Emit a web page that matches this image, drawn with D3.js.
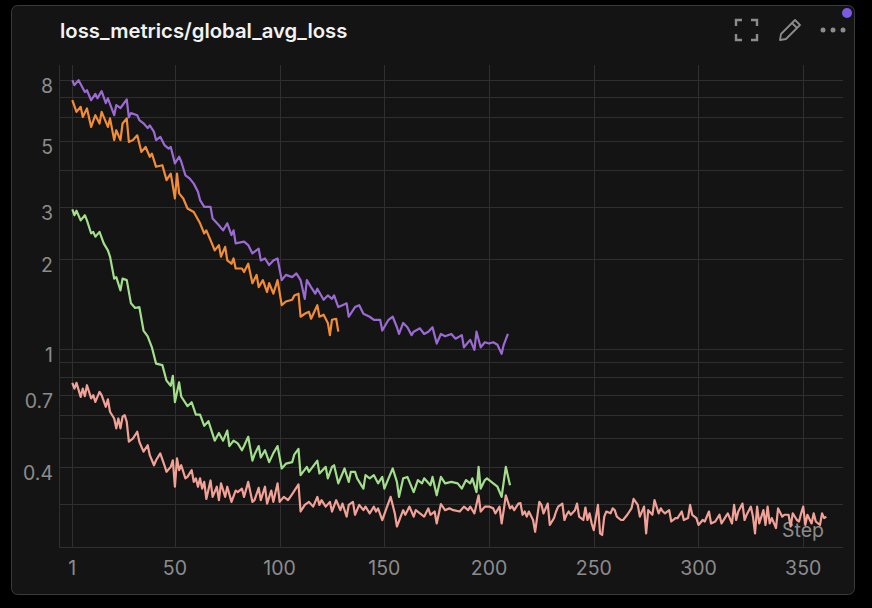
<!DOCTYPE html>
<html>
<head>
    <script src="https://cdnjs.cloudflare.com/ajax/libs/d3/7.8.5/d3.min.js"></script>
    <style>
        html, body {
            margin: 0;
            padding: 0;
            background: #000;
        }
        svg {
            display: block;
            font-family: Inter, "Noto Sans", sans-serif;
        }
        .tick-label {
            fill: #8c8c8c;
            font-size: 19.5px;
        }
        .grid-line {
            stroke: #2f2f2f;
            stroke-width: 1;
        }
        .series {
            fill: none;
            stroke-width: 2.2;
            stroke-linejoin: round;
        }
    </style>
</head>
<body>
    <svg id="chart" width="872" height="608"></svg>

    <script>
        // values, [step, loss]
        const purpleRun = [
            [1,8.0],[2,7.7],[4,8.0],[7,7.3],[8,7.4],[10,6.85],[12,7.2],[13,6.95],[15,7.35],[17,6.7],[18,6.95],
            [21,6.1],[22,6.6],[24,6.45],[27,6.9],[28,6.0],[29,6.2],[32,6.1],[33,5.87],[35,5.73],[37,5.52],
            [38,5.64],[40,5.36],[41,5.03],[43,5.16],[45,4.84],[47,4.71],[48,4.77],[50,4.2],[52,4.42],[53,4.26],
            [55,3.83],[57,3.74],[59,3.59],[61,3.37],[62,3.16],[64,3.0],[67,3.0],[68,2.74],[71,2.6],[73,2.5],
            [75,2.64],[77,2.41],[78,2.5],[79,2.26],[83,2.29],[85,2.23],[87,2.09],[90,2.17],[91,1.98],[93,2.01],
            [95,1.91],[97,1.98],[99,2.01],[101,1.70],[103,1.77],[106,1.74],[108,1.79],[110,1.70],[112,1.47],[113,1.70],
            [115,1.61],[117,1.53],[118,1.59],[121,1.46],[123,1.51],[125,1.47],[126,1.51],[128,1.38],[130,1.40],[132,1.42],
            [133,1.28],[136,1.38],[138,1.40],[140,1.31],[143,1.28],[145,1.25],[148,1.25],[149,1.15],[152,1.25],[154,1.28],
            [156,1.18],[157,1.12],[159,1.22],[161,1.18],[163,1.11],[164,1.14],[167,1.17],[169,1.12],[171,1.14],[173,1.18],
            [175,1.04],[177,1.12],[179,1.10],[182,1.12],[184,1.08],[187,1.11],[188,1.01],[191,1.07],[193,0.99],[194,1.14],
            [196,1.01],[198,1.05],[200,1.04],[202,1.05],[204,1.03],[206,0.96],[207,1.03],[209,1.12]
        ];

        const orangeRun = [
            [1,6.85],[3,6.26],[5,6.51],[6,6.02],[8,6.43],[10,5.57],[12,6.10],[14,5.72],[15,6.26],[18,5.57],
            [19,5.95],[21,5.03],[22,5.43],[24,5.03],[25,5.72],[27,5.95],[28,4.96],[30,5.03],[32,5.22],[34,4.59],
            [36,4.77],[38,4.42],[39,4.53],[41,4.09],[44,4.14],[46,3.69],[48,3.88],[50,3.2],[51,3.88],[52,3.33],
            [54,3.2],[56,2.96],[59,2.88],[62,2.64],[64,2.44],[65,2.50],[68,2.23],[69,2.14],[71,2.23],[72,2.04],
            [74,2.20],[75,1.98],[77,1.93],[78,2.01],[79,1.86],[82,1.86],[83,1.81],[85,1.93],[87,1.66],[89,1.77],
            [90,1.61],[92,1.70],[94,1.55],[95,1.66],[97,1.53],[99,1.70],[101,1.40],[103,1.44],[106,1.46],[107,1.51],
            [109,1.53],[110,1.28],[112,1.31],[114,1.33],[115,1.26],[118,1.40],[119,1.28],[121,1.30],[123,1.22],[124,1.11],
            [125,1.25],[127,1.26],[128,1.14]
        ];

        const greenRun = [
            [1,2.94],[2,2.81],[3,2.91],[5,2.70],[7,2.81],[8,2.70],[10,2.44],[11,2.47],[12,2.38],[14,2.47],
            [16,2.26],[18,2.14],[19,2.04],[21,1.72],[22,1.74],[24,1.57],[25,1.72],[27,1.70],[29,1.42],[31,1.37],
            [33,1.38],[35,1.15],[37,1.10],[39,1.01],[41,0.89],[44,0.88],[46,0.78],[48,0.75],[49,0.81],[50,0.66],
            [52,0.77],[53,0.69],[56,0.64],[58,0.66],[60,0.60],[62,0.60],[64,0.55],[66,0.57],[69,0.49],[71,0.52],
            [73,0.49],[75,0.53],[76,0.47],[78,0.49],[80,0.48],[82,0.455],[83,0.47],[85,0.505],[87,0.42],[88,0.44],
            [90,0.47],[91,0.43],[93,0.455],[95,0.415],[97,0.445],[99,0.47],[101,0.395],[103,0.41],[106,0.415],[107,0.44],
            [109,0.46],[110,0.375],[113,0.40],[114,0.385],[118,0.42],[119,0.38],[122,0.40],[123,0.366],[125,0.40],[126,0.405],
            [128,0.352],[130,0.38],[131,0.395],[133,0.356],[134,0.385],[136,0.385],[137,0.366],[140,0.338],[141,0.375],[143,0.366],
            [145,0.375],[147,0.352],[149,0.37],[150,0.338],[152,0.366],[154,0.395],[156,0.356],[157,0.317],[159,0.366],[161,0.37],
            [164,0.329],[166,0.361],[168,0.352],[169,0.366],[172,0.347],[173,0.37],[175,0.321],[177,0.37],[179,0.352],[182,0.356],
            [185,0.352],[187,0.338],[189,0.361],[191,0.352],[192,0.366],[194,0.329],[195,0.40],[196,0.338],[198,0.361],[199,0.366],
            [202,0.352],[204,0.343],[206,0.317],[207,0.356],[208,0.40],[210,0.347]
        ];

        const salmonRun = [
            [1,0.767],[2,0.734],[3,0.767],[5,0.688],[6,0.734],[7,0.692],[8,0.753],[10,0.68],[11,0.697],[12,0.662],
            [14,0.715],[15,0.697],[17,0.637],[18,0.675],[19,0.613],[21,0.582],[22,0.539],[23,0.582],[24,0.539],[25,0.59],
            [26,0.597],[27,0.567],[28,0.486],[30,0.499],[32,0.525],[33,0.486],[35,0.45],[37,0.473],[38,0.438],[40,0.405],
            [41,0.421],[43,0.444],[45,0.405],[46,0.385],[48,0.40],[49,0.421],[50,0.343],[51,0.427],[52,0.39],[53,0.405],
            [55,0.366],[56,0.37],[58,0.39],[59,0.356],[60,0.366],[61,0.343],
            [62,0.366],[63,0.338],[64,0.356],[65,0.312],[67,0.36],[68,0.317],[70,0.343],[71,0.309],[72,0.352],[74,0.317],
            [75,0.343],[77,0.305],[79,0.333],[80,0.329],[82,0.338],[83,0.317],[85,0.356],[87,0.305],[88,0.309],[90,0.34],
            [91,0.309],[93,0.343],[94,0.301],[96,0.333],[97,0.305],[99,0.352],[100,0.305],[102,0.317],[104,0.309],[106,0.324],
            [109,0.349],[110,0.283],[112,0.298],[114,0.305],[116,0.294],[118,0.317],[119,0.298],[120,0.309],[122,0.294],[124,0.305],
            [125,0.283],[127,0.309],[129,0.286],[130,0.301],[132,0.272],[133,0.298],[135,0.305],[136,0.276],[138,0.298],[140,0.286],
            [141,0.294],[143,0.279],[145,0.294],[146,0.283],[147,0.290],[149,0.265],[151,0.29],[153,0.317],[155,0.279],[156,0.252],
            [159,0.286],[160,0.276],[162,0.294],[164,0.272],[165,0.286],[167,0.279],[169,0.272],[171,0.290],[172,0.276],[174,0.283],
            [175,0.258],[177,0.30],[179,0.286],[181,0.29],[183,0.286],[186,0.283],[188,0.294],[190,0.286],[191,0.294],[193,0.279],
            [195,0.321],[196,0.283],[198,0.294],[200,0.294],[202,0.290],[203,0.279],[205,0.294],[206,0.258],[207,0.286],[208,0.321],
            [210,0.290],[211,0.295],[212,0.286],[214,0.301],[215,0.302],[216,0.276],[217,0.283],[218,0.272],[219,0.283],[221,0.265],
            [222,0.242],[224,0.305],[225,0.298],[226,0.279],[228,0.301],[229,0.255],[231,0.269],[232,0.283],[233,0.294],[235,0.301],
            [236,0.265],[237,0.276],[238,0.283],[239,0.276],[241,0.286],[242,0.301],[243,0.272],[245,0.265],[246,0.292],[247,0.265],
            [248,0.279],[249,0.258],[250,0.245],[252,0.298],[253,0.239],[254,0.236],[255,0.272],[256,0.283],[258,0.279],[259,0.290],
            [260,0.286],[261,0.272],[263,0.265],[264,0.265],[266,0.276],[268,0.290],[269,0.312],[271,0.298],[272,0.272],[274,0.294],
            [275,0.239],[276,0.286],[278,0.276],[279,0.309],[281,0.279],[282,0.290],[283,0.283],[284,0.279],[286,0.286],[287,0.262],
            [289,0.269],[290,0.269],[292,0.283],[293,0.265],[295,0.269],[296,0.298],[297,0.276],[299,0.269],[300,0.255],[302,0.265],
            [303,0.262],[305,0.283],[306,0.258],[308,0.262],[310,0.276],[311,0.258],[313,0.272],[314,0.279],[316,0.258],[317,0.298],
            [318,0.265],[319,0.283],[321,0.301],[322,0.265],[323,0.276],[325,0.294],[326,0.272],[327,0.239],[328,0.294],[329,0.258],
            [331,0.286],[332,0.255],[333,0.294],[334,0.258],[335,0.269],[337,0.249],[338,0.290],[340,0.272],[341,0.276],[343,0.276],
            [344,0.252],[345,0.279],[347,0.265],[348,0.262],[349,0.279],[350,0.294],[351,0.255],[352,0.276],[354,0.258],[355,0.279],
            [356,0.262],[358,0.255],[359,0.279],[360,0.269],[361,0.272]
        ];

        const seriesList = [
            { name: "salmon", color: "#f2a197", data: salmonRun },
            { name: "green", color: "#a2de8b", data: greenRun },
            { name: "orange", color: "#f28c36", data: orangeRun },
            { name: "purple", color: "#9b6bd3", data: purpleRun }
        ];

        const xTicks = [1, 50, 100, 150, 200, 250, 300, 350];
        const yGrid = [0.3, 0.4, 0.5, 0.6, 0.7, 0.8, 0.9, 1, 2, 3, 4, 5, 6, 7, 8];
        const yLabels = [8, 5, 3, 2, 1, 0.7, 0.4];
        const chartTitle = "loss_metrics/global_avg_loss";

        const svg = d3.select("#chart");

        // plot box
        const plot = { left: 59, right: 843, top: 65, bottom: 547 };

        const x = d3.scaleLinear()
            .domain([-5.35, 369])
            .range([plot.left, plot.right]);

        const y = d3.scaleLog()
            .domain([0.215, 9.0])
            .range([plot.bottom, plot.top]);

        // card
        svg.append("rect")
            .attr("x", 11.5)
            .attr("y", 5.5)
            .attr("width", 843)
            .attr("height", 589)
            .attr("rx", 6)
            .attr("fill", "#141414")
            .attr("stroke", "#3a3a3a")
            .attr("stroke-width", 1);

        svg.append("text")
            .attr("x", 60)
            .attr("y", 38)
            .attr("fill", "#f2f2f2")
            .attr("font-size", 20.3)
            .attr("font-weight", 600)
            .text(chartTitle);

        // top right icons
        const icons = svg.append("g")
            .attr("stroke", "#8c8c8c")
            .attr("fill", "none")
            .attr("stroke-width", 2.4);

        icons.append("path")
            .attr("d", "M736,26 V20 H742 M751,20 H757 V26 M757,34 V40 H751 M742,40 H736 V34");

        icons.append("path")
            .attr("stroke-width", 1.8)
            .attr("stroke-linejoin", "round")
            .attr("d", "M780,40 L781,34 L795,20 L800,25 L786,39 Z M792,23 L797,28");

        svg.selectAll(".dot")
            .data([823, 833, 843])
            .enter()
            .append("circle")
            .attr("cx", d => d)
            .attr("cy", 30)
            .attr("r", 2.5)
            .attr("fill", "#8c8c8c");

        svg.append("circle")
            .attr("cx", 847)
            .attr("cy", 13)
            .attr("r", 5)
            .attr("fill", "#7d5ae6");

        // grid
        const grid = svg.append("g");

        grid.selectAll(".hline")
            .data(yGrid)
            .enter()
            .append("line")
            .attr("class", "grid-line")
            .attr("x1", plot.left)
            .attr("x2", plot.right)
            .attr("y1", d => Math.round(y(d)) + 0.5)
            .attr("y2", d => Math.round(y(d)) + 0.5);

        grid.selectAll(".vline")
            .data(xTicks)
            .enter()
            .append("line")
            .attr("class", "grid-line")
            .attr("x1", d => Math.round(x(d)) + 0.5)
            .attr("x2", d => Math.round(x(d)) + 0.5)
            .attr("y1", plot.top)
            .attr("y2", plot.bottom);

        // frame edges
        grid.append("line")
            .attr("class", "grid-line")
            .attr("x1", plot.left + 0.5).attr("x2", plot.left + 0.5)
            .attr("y1", plot.top).attr("y2", plot.bottom);
        grid.append("line")
            .attr("class", "grid-line")
            .attr("x1", plot.left).attr("x2", plot.right)
            .attr("y1", plot.bottom + 0.5).attr("y2", plot.bottom + 0.5);

        // tick labels
        svg.selectAll(".ylab")
            .data(yLabels)
            .enter()
            .append("text")
            .attr("class", "tick-label")
            .attr("x", 53)
            .attr("y", d => y(d) + 13)
            .attr("text-anchor", "end")
            .text(d => d);

        svg.selectAll(".xlab")
            .data(xTicks)
            .enter()
            .append("text")
            .attr("class", "tick-label")
            .attr("x", d => x(d))
            .attr("y", 575)
            .attr("text-anchor", "middle")
            .text(d => d);

        svg.append("text")
            .attr("class", "tick-label")
            .attr("x", 824)
            .attr("y", 537)
            .attr("text-anchor", "end")
            .attr("font-size", 19.5)
            .text("Step");

        // lines
        const line = d3.line()
            .x(d => x(d[0]))
            .y(d => y(d[1]));

        svg.append("g")
            .selectAll("path")
            .data(seriesList)
            .enter()
            .append("path")
            .attr("class", "series")
            .attr("stroke", d => d.color)
            .attr("d", d => line(d.data));
    </script>
</body>
</html>
